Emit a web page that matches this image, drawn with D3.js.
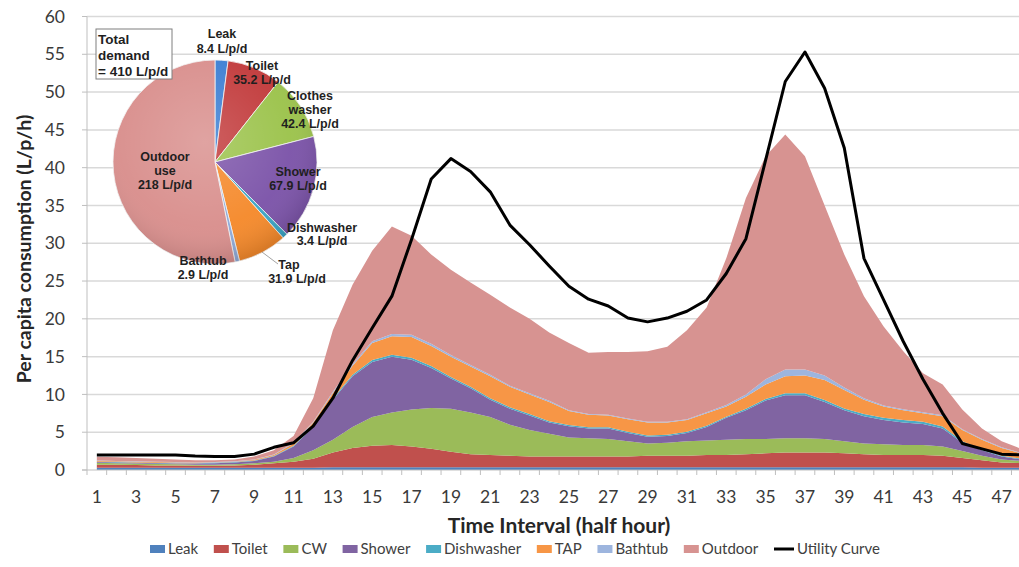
<!DOCTYPE html>
<html><head><meta charset="utf-8">
<script src="https://cdn.jsdelivr.net/npm/d3@7"></script>
<style>body{margin:0;background:#fff} svg{display:block}</style>
</head><body><svg id="c" width="1019" height="567"></svg>
<script>
// ---------- data ----------
const categories = [1,2,3,4,5,6,7,8,9,10,11,12,13,14,15,16,17,18,19,20,21,22,23,24,25,26,27,28,29,30,31,32,33,34,35,36,37,38,39,40,41,42,43,44,45,46,47,48];
const leak       = [0.3,0.3,0.3,0.3,0.3,0.3,0.3,0.3,0.3,0.3,0.3,0.3,0.35,0.35,0.35,0.35,0.35,0.35,0.35,0.35,0.35,0.35,0.35,0.35,0.35,0.35,0.35,0.35,0.35,0.35,0.35,0.35,0.35,0.35,0.35,0.35,0.35,0.35,0.35,0.35,0.35,0.35,0.35,0.35,0.35,0.3,0.3,0.3];
const toilet     = [0.4,0.4,0.35,0.3,0.3,0.25,0.25,0.3,0.4,0.6,0.8,1.2,1.95,2.55,2.85,2.95,2.75,2.45,2.05,1.75,1.65,1.55,1.45,1.45,1.45,1.45,1.45,1.45,1.55,1.55,1.55,1.65,1.65,1.75,1.85,1.95,1.95,1.95,1.85,1.75,1.65,1.65,1.65,1.55,1.25,1.0,0.7,0.6];
const cw         = [0.25,0.2,0.2,0.2,0.15,0.15,0.15,0.15,0.2,0.2,0.5,1.1,1.7,2.8,3.8,4.3,4.9,5.4,5.7,5.5,5.0,4.1,3.5,3.0,2.5,2.4,2.3,2.0,1.6,1.7,1.9,1.9,2.0,2.0,1.9,1.9,1.9,1.8,1.6,1.4,1.4,1.3,1.3,1.2,0.9,0.6,0.4,0.3];
const shower     = [0.1,0.1,0.1,0.1,0.1,0.15,0.2,0.25,0.3,0.7,1.5,3.1,5.3,6.7,7.3,7.4,6.6,5.3,4.0,3.2,2.3,2.1,1.9,1.5,1.5,1.3,1.4,1.1,0.9,0.9,1.1,1.8,2.9,3.8,5.1,5.7,5.7,4.9,4.1,3.6,3.2,3.0,2.8,2.4,1.1,0.7,0.4,0.2];
const dishwasher = [0.05,0.05,0.05,0.05,0.05,0.05,0.05,0.05,0.05,0.05,0.1,0.1,0.15,0.2,0.25,0.25,0.25,0.25,0.2,0.2,0.2,0.2,0.2,0.15,0.15,0.15,0.15,0.15,0.15,0.15,0.15,0.15,0.15,0.2,0.2,0.25,0.25,0.25,0.25,0.3,0.3,0.3,0.3,0.25,0.2,0.15,0.1,0.1];
const tap        = [0.1,0.1,0.1,0.1,0.1,0.05,0.05,0.05,0.1,0.15,0.3,0.5,0.75,1.2,2.25,2.45,2.75,2.65,2.7,2.7,2.9,2.7,2.6,2.55,1.85,1.65,1.55,1.65,1.75,1.65,1.55,1.65,1.35,1.6,1.9,2.25,2.35,2.65,2.45,1.9,1.5,1.3,1.1,1.35,1.5,1.25,1.0,0.7];
const bathtub    = [0.05,0.05,0.05,0.05,0.05,0.05,0.05,0.05,0.05,0.05,0.1,0.1,0.15,0.2,0.25,0.3,0.3,0.3,0.2,0.2,0.2,0.15,0.15,0.15,0.1,0.1,0.1,0.1,0.1,0.1,0.1,0.15,0.2,0.3,0.7,0.9,0.8,0.6,0.3,0.2,0.15,0.15,0.15,0.15,0.1,0.1,0.1,0.05];
const outdoor    = [0.5,0.5,0.45,0.4,0.35,0.3,0.25,0.25,0.4,0.55,0.9,3.1,8.15,10.5,11.95,14.2,13.1,11.8,11.3,10.9,10.6,10.35,9.85,9.05,8.9,8.1,8.3,8.8,9.3,9.9,11.8,13.85,19.4,26.0,29.5,31.1,28.2,22.5,17.6,13.5,10.45,7.65,5.15,4.05,2.6,1.4,0.8,0.55];
const utility    = [2.0,2.0,2.0,2.0,2.0,1.85,1.8,1.8,2.1,3.0,3.6,5.8,9.5,14.5,18.8,23.0,30.5,38.5,41.2,39.5,36.8,32.4,29.8,27.0,24.3,22.6,21.7,20.1,19.6,20.1,21.0,22.5,26.0,30.6,41.0,51.4,55.3,50.5,42.6,28.0,22.5,17.0,12.0,7.5,3.5,2.8,2.1,2.0];

const seriesNames = ["Leak","Toilet","CW","Shower","Dishwasher","TAP","Bathtub","Outdoor"];
const seriesData  = [leak,toilet,cw,shower,dishwasher,tap,bathtub,outdoor];
const areaColors  = ["#4F81BD","#C0504D","#9BBB59","#8064A2","#4BACC6","#F79646","#9DB5DE","#D79391"];
const lineName = "Utility Curve";
const yTicks = [0,5,10,15,20,25,30,35,40,45,50,55,60];
const xTickLabels = [1,3,5,7,9,11,13,15,17,19,21,23,25,27,29,31,33,35,37,39,41,43,45,47];

// pie (daily totals, L/p/d)
const pieNames  = ["Leak","Toilet","Clothes washer","Shower","Dishwasher","Tap","Bathtub","Outdoor use"];
const pieValues = [8.4,35.2,42.4,67.9,3.4,31.9,2.9,218];
const pieColors = ["#3D7FD3","#C23B3C","#9CC34C","#7C54A9","#3CA6C6","#F58A2C","#8FAAD9","#D98F8D"];
const pieLabelLines = [["Leak","8.4 L/p/d"],["Toilet","35.2 L/p/d"],["Clothes","washer","42.4 L/p/d"],["Shower","67.9 L/p/d"],["Dishwasher","3.4 L/p/d"],["Tap","31.9 L/p/d"],["Bathtub","2.9 L/p/d"],["Outdoor","use","218 L/p/d"]];
const totalLines = ["Total","demand","= 410 L/p/d"];

// ---------- layout ----------
const svg = d3.select("#c");
const W = 1019, H = 567;
const plotL = 87, yBottom = 470, yTop = 16.5, step = 19.67;
const x = d3.scalePoint().domain(categories).range([plotL + step/2, plotL + step/2 + step*(categories.length-1)]);
const y = d3.scaleLinear().domain([0,60]).range([yBottom, yTop]);
const FONT = "Lato, 'Open Sans', 'Liberation Sans', sans-serif";
const BOLD = "'Liberation Sans', Arial, sans-serif";

// gridlines
svg.append("g").selectAll("line").data(yTicks.filter(d=>d>0)).join("line")
  .attr("x1", plotL).attr("x2", W).attr("y1", d=>y(d)).attr("y2", d=>y(d))
  .attr("stroke", "#d9d9d9").attr("stroke-width", 1.5);

// stacked areas
const rows = categories.map((c,i)=>{const o={cat:c}; seriesNames.forEach((n,k)=>o[n]=seriesData[k][i]); return o;});
const stack = d3.stack().keys(seriesNames)(rows);
const area = d3.area().x(d=>x(d.data.cat)).y0(d=>y(d[0])).y1(d=>y(d[1]));
svg.append("g").selectAll("path").data(stack).join("path")
  .attr("d", area).attr("fill", (d,i)=>areaColors[i]);

// axes
const ax = svg.append("g");
ax.append("line").attr("x1", plotL).attr("x2", plotL).attr("y1", yTop).attr("y2", yBottom).attr("stroke", "#bfbfbf").attr("stroke-width", 1);
ax.append("line").attr("x1", plotL-5).attr("x2", W).attr("y1", yBottom).attr("y2", yBottom).attr("stroke", "#bfbfbf").attr("stroke-width", 1);
ax.selectAll(".yt").data(yTicks).join("line").attr("class","yt")
  .attr("x1", plotL-5).attr("x2", plotL).attr("y1", d=>y(d)).attr("y2", d=>y(d)).attr("stroke", "#bfbfbf");
ax.selectAll(".xt").data(d3.range(categories.length+1)).join("line").attr("class","xt")
  .attr("x1", i=>plotL+i*step).attr("x2", i=>plotL+i*step).attr("y1", yBottom).attr("y2", yBottom+5).attr("stroke", "#bfbfbf");
ax.selectAll(".yl").data(yTicks).join("text").attr("class","yl")
  .attr("x", 65).attr("y", d=>y(d)).attr("dy","0.35em").attr("text-anchor","end")
  .attr("font-family", FONT).attr("font-size", 17.5).attr("fill","#3a3a3a").text(d=>d);
ax.selectAll(".xl").data(xTickLabels).join("text").attr("class","xl")
  .attr("x", d=>x(d)).attr("y", 497).attr("dy","0.35em").attr("text-anchor","middle")
  .attr("font-family", FONT).attr("font-size", 17.5).attr("fill","#3a3a3a").text(d=>d);

// axis titles
svg.append("text").attr("transform","translate(24,249) rotate(-90)").attr("text-anchor","middle").attr("dy","0.35em")
  .attr("font-family", FONT).attr("font-weight","bold").attr("font-size", 19.5).attr("fill","#262626")
  .text("Per capita consumption (L/p/h)");
svg.append("text").attr("x", 559).attr("y", 526).attr("text-anchor","middle").attr("dy","0.35em")
  .attr("font-family", FONT).attr("font-weight","bold").attr("font-size", 21).attr("fill","#262626")
  .text("Time Interval (half hour)");

// utility line
svg.append("path").datum(utility.map((v,i)=>[categories[i],v]))
  .attr("d", d3.line().x(d=>x(d[0])).y(d=>y(d[1])))
  .attr("fill","none").attr("stroke","#000").attr("stroke-width",3).attr("stroke-linejoin","round");

// ---------- pie ----------
const cx = 215, cy = 162, R = 102;
const defs = svg.append("defs");
const rg = defs.append("radialGradient").attr("id","shade").attr("cx","45%").attr("cy","40%").attr("r","60%");
rg.append("stop").attr("offset","0%").attr("stop-color","#fff").attr("stop-opacity",0.18);
rg.append("stop").attr("offset","70%").attr("stop-color","#fff").attr("stop-opacity",0.03);
rg.append("stop").attr("offset","100%").attr("stop-color","#000").attr("stop-opacity",0.12);
const pg = svg.append("g").attr("transform",`translate(${cx},${cy})`);
const arcs = d3.pie().sort(null).value(d=>d)(pieValues);
pg.selectAll("path").data(arcs).join("path")
  .attr("d", d3.arc().innerRadius(0).outerRadius(R))
  .attr("fill",(d,i)=>pieColors[i]).attr("stroke","#f4f4f4").attr("stroke-width",0.8);
pg.append("circle").attr("r",R).attr("fill","url(#shade)");

// pie labels
const pieLabelPos = [[222,38,15],[262,70,14],[310,100,14],[298,176,14],[322,232,13],[[289,297],269,14],[203,265,14],[165,161,14]];
const lg = svg.append("g").attr("font-family", BOLD).attr("font-weight","bold").attr("font-size",12.5).attr("fill","#1f1f1f").attr("text-anchor","middle");
pieLabelLines.forEach((lines,k)=>{
  const p = pieLabelPos[k];
  lines.forEach((t,j)=>{
    const xx = Array.isArray(p[0]) ? p[0][j] : p[0];
    lg.append("text").attr("x", xx).attr("y", p[1] + j*p[2]).text(t);
  });
});
// leader for Tap
svg.append("line").attr("x1",262).attr("y1",252).attr("x2",278).attr("y2",264).attr("stroke","#8c8c8c").attr("stroke-width",0.8);

// total demand box
svg.append("rect").attr("x",96).attr("y",29).attr("width",76).attr("height",50).attr("fill","#fff").attr("stroke","#7f7f7f").attr("stroke-width",1);
svg.append("g").attr("font-family",BOLD).attr("font-weight","bold").attr("font-size",13.5).attr("fill","#1f1f1f")
  .selectAll("text").data(totalLines).join("text").attr("x",98).attr("y",(d,i)=>44+i*16).text(d=>d);

// ---------- legend ----------
const leg = svg.append("g").attr("font-family", FONT).attr("font-size", 15).attr("fill","#404040");
const ly = 549, legStart = 150, legEnd = 880;
const items = seriesNames.map((n,i)=>({name:n,color:areaColors[i],type:"sw"})).concat([{name:lineName,color:"#000",type:"line"}]);
// measure
const meas = items.map(it=>{const t=leg.append("text").text(it.name); const w=t.node().getComputedTextLength(); t.remove(); return w;});
const markW = items.map(it=>it.type==="sw"?18:23);
const natural = d3.sum(meas)+d3.sum(markW);
const gap = (legEnd-legStart-natural)/(items.length-1);
let lx = legStart;
items.forEach((it,i)=>{
  if(it.type==="sw"){
    leg.append("rect").attr("x",lx).attr("y",ly-4).attr("width",15).attr("height",8).attr("fill",it.color);
  } else {
    leg.append("line").attr("x1",lx).attr("x2",lx+20).attr("y1",ly).attr("y2",ly).attr("stroke","#000").attr("stroke-width",3);
  }
  lx += markW[i];
  leg.append("text").attr("x",lx).attr("y",ly).attr("dy","0.35em").text(it.name);
  lx += meas[i] + gap;
});
</script></body></html>
